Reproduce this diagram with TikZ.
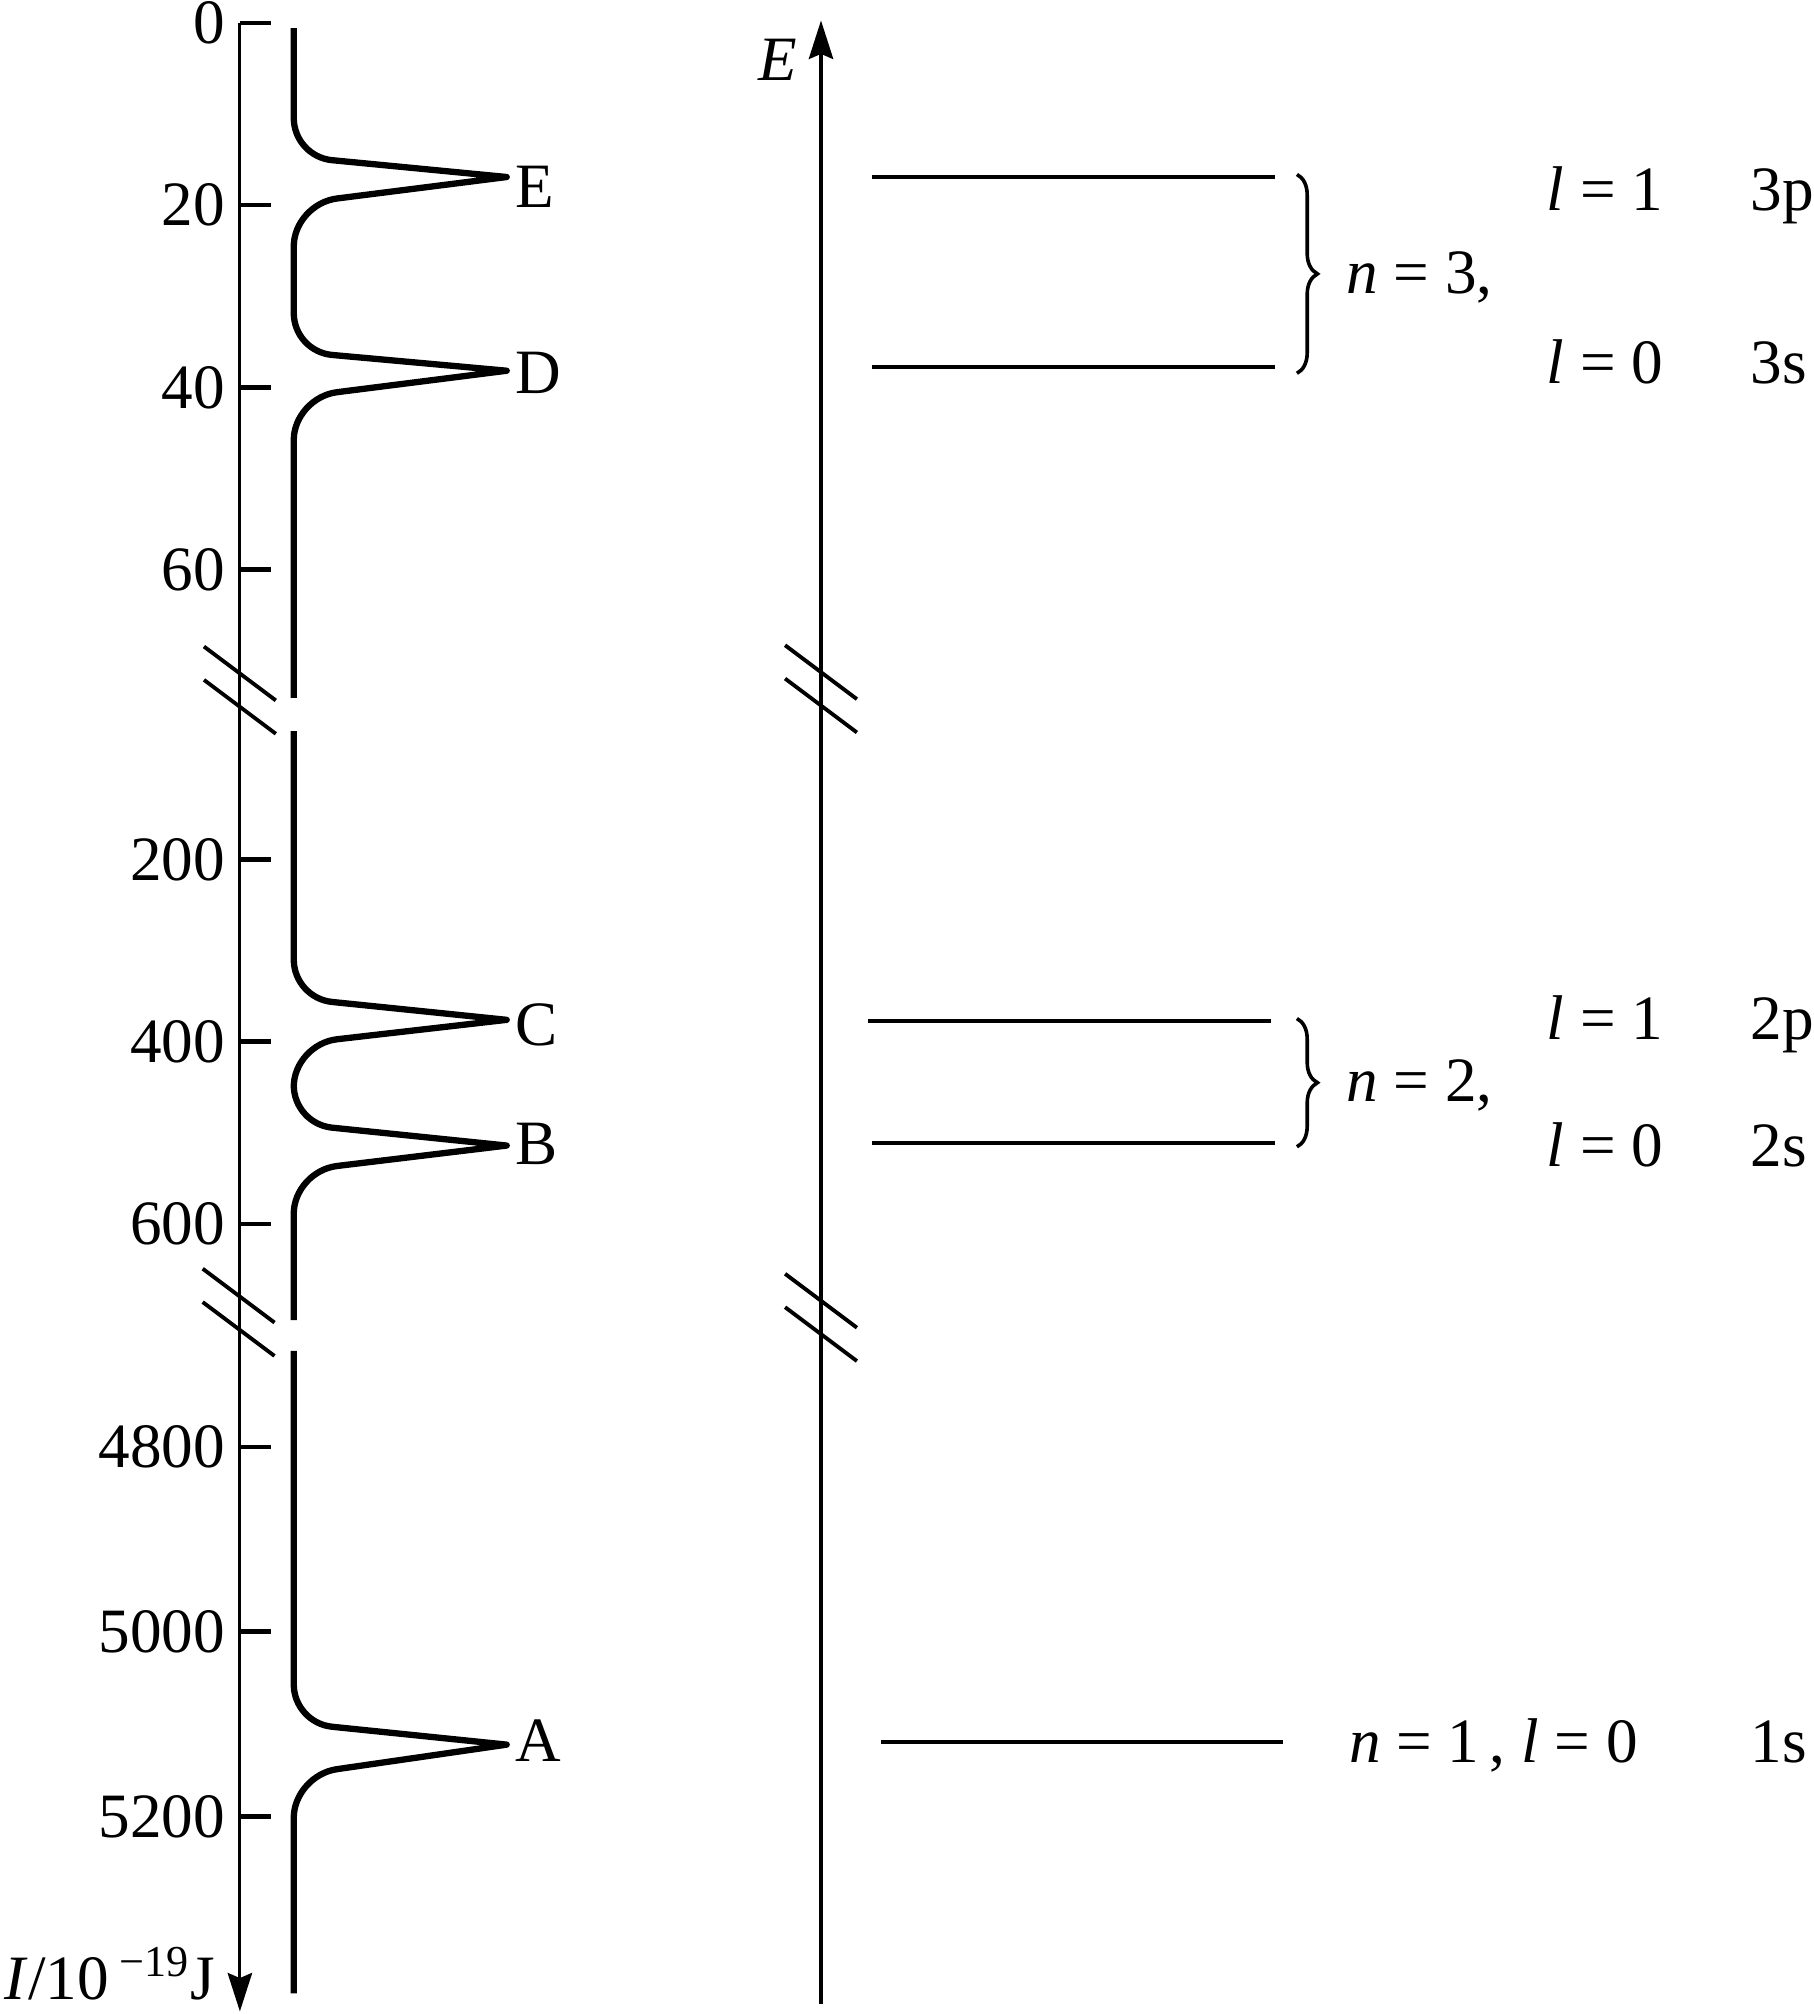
\documentclass[tikz,border=0pt]{standalone}
\usepackage{fontspec}
\setmainfont{Liberation Serif}
\usetikzlibrary{arrows.meta, calc, positioning, decorations.pathreplacing}
\tikzset{
    >={Stealth[length=0.3cm, width=0.19cm, inset=0.04cm]}, % filled heads on both axes
    axis/.style={line width=0.7pt}, % thin axis lines
    tick/.style={line width=1pt},
    level/.style={line width=1.05pt}, % energy levels
    spectrum/.style={line width=1.4pt, line join=round}, % the photoelectron curve
    cut/.style={line width=0.85pt}, % axis break marks
    txt/.style={inner sep=0pt, font=\fontsize{14}{16}\selectfont},
    curly/.style={decorate, decoration={brace, amplitude=0.16cm}, line width=0.8pt},
}
% one peak of the spectrum: tip height, upper and lower corner offsets
\newcommand{\specpeak}[3]{%
  -- (229,#1-#2-30)
     .. controls (229,#1-#2-13) and ($(229,#1-#2)!0.13cm!(395,#1)$)
     .. ($(229,#1-#2)!0.30cm!(395,#1)$)
  -- (395,#1)
  -- ($(229,#1+#3)!0.34cm!(395,#1)$)
     .. controls ($(229,#1+#3)!0.15cm!(395,#1)$) and (229,#1+#3+15)
     .. (229,#1+#3+33)}
% two slashes across an axis
\newcommand{\axcut}[2]{%
  \draw[cut] (#1-28,#2-21) -- (#1+28,#2+21);
  \draw[cut] (#1-28,#2+5) -- (#1+28,#2+47);}

\begin{document}
\begin{tikzpicture}[x=0.01cm, y=-0.01cm]
    \useasboundingbox (0,0) rectangle (1414,1570);

    % ionisation energy axis
    \coordinate (itop) at (187,18);
    \coordinate (ibot) at (187,1568);
    \draw[axis,->] (itop) -- (ibot);
    \foreach \y/\v in {18/0, 160/20, 302/40, 444/60, 670/200, 812/400, 954/600,
                       1128/4800, 1272/5000, 1416/5200}
        {\draw[tick] (187,\y) -- (211,\y);
         \node[txt, anchor=east] (v\v) at (176,\y) {\v};}
    \node[txt, anchor=base west] (iunit) at (3,1559) {\textit{I}/10\,\textsuperscript{−19}J};
    \axcut{187}{525}
    \axcut{186}{1010}

    % spectrum
    \draw[spectrum] (229,22) \specpeak{138}{16}{21} \specpeak{289}{15}{21} -- (229,544);
    \draw[spectrum] (229,570) \specpeak{795}{17}{19} \specpeak{893}{17}{20} -- (229,1029);
    \draw[spectrum] (229,1053) \specpeak{1360}{17}{24} -- (229,1554);
    \foreach \p/\y in {E/146, D/291, C/799, B/892, A/1357}
        \node[txt, anchor=west] (p\p) at (401,\y) {\p};

    % energy axis
    \coordinate (ebot) at (640,1562);
    \coordinate (etop) at (640,16);
    \draw[axis,->] (ebot) -- (etop);
    \node[txt] (elab) at (606,47) {\textit{E}};
    \axcut{640}{524}
    \axcut{640}{1014}

    % levels
    \draw[level] (680,138) -- (994,138);
    \draw[level] (680,286) -- (994,286);
    \draw[level] (677,796) -- (991,796);
    \draw[level] (680,891) -- (994,891);
    \draw[level] (687,1358) -- (1000,1358);
    \draw[curly] (1011,136) -- (1011,291);
    \draw[curly] (1011,794) -- (1011,894);

    \node[txt, anchor=base west] (n3) at (1049,229) {\textit{n} = 3,};
    \node[txt, anchor=base west] (l31) at (1205,164) {\textit{l} = 1};
    \node[txt, anchor=base west] (o3p) at (1364,164) {3p};
    \node[txt, anchor=base west] (l30) at (1205,299) {\textit{l} = 0};
    \node[txt, anchor=base west] (o3s) at (1364,299) {3s};

    \node[txt, anchor=base west] (n2) at (1049,859) {\textit{n} = 2,};
    \node[txt, anchor=base west] (l21) at (1205,810) {\textit{l} = 1};
    \node[txt, anchor=base west] (o2p) at (1364,810) {2p};
    \node[txt, anchor=base west] (l20) at (1205,909) {\textit{l} = 0};
    \node[txt, anchor=base west] (o2s) at (1364,909) {2s};

    \node[txt, anchor=base west] (n1) at (1051,1374) {\textit{n} = 1\,, \textit{l} = 0};
    \node[txt, anchor=base west] (o1s) at (1364,1374) {1s};
\end{tikzpicture}
\end{document}
